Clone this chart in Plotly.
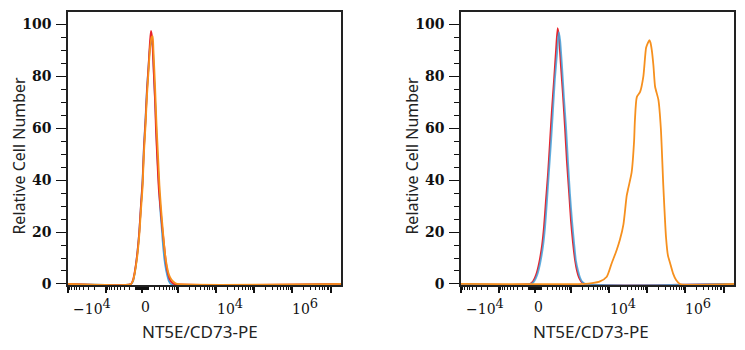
import numpy as np
import plotly.graph_objects as go

# ---- data (x in biexponential display channels 0..1000, y = % of max) ----
# Left panel
L_red_x = [0, 231, 238, 245, 253, 261, 267, 273, 278, 284, 289, 295, 300, 304, 308, 313, 319, 322, 328, 333, 339, 344, 352, 359, 366, 374, 381, 388, 1000]
L_red_y = [0, 0, 1.5, 5, 11, 20, 30, 39, 52, 63, 74, 84, 93, 97.5, 95, 84, 70, 60, 46, 36, 29, 23, 15, 8, 4, 1.5, 0.5, 0, 0]
L_blue_x = [0, 231, 238, 245, 253, 261, 267, 273, 278, 284, 289, 295, 300, 306, 310, 315, 321, 326, 332, 337, 343, 348, 355, 363, 370, 377, 1000]
L_blue_y = [0, 0, 1, 4.5, 11, 20, 30, 40, 53, 64, 75, 84, 91, 94, 92, 80, 66, 52, 40, 30, 22, 15, 8, 3.5, 1, 0, 0]
L_orange_x = [0, 231, 238, 245, 253, 262, 267, 273, 278, 284, 289, 295, 300, 306, 310, 313, 319, 324, 330, 335, 341, 348, 355, 363, 370, 377, 385, 392, 399, 1000]
L_orange_y = [0, 0, 1.2, 4.5, 10, 20, 28, 37, 50, 61, 72, 82, 90, 95, 95.5, 90, 76, 62, 49, 38, 29, 20, 12, 6.5, 3.5, 2, 1, 0.4, 0, 0]

# Right panel
R_red_x = [0, 253, 264, 275, 286, 297, 304, 311, 319, 326, 333, 341, 348, 354, 359, 366, 374, 381, 388, 396, 403, 410, 418, 425, 432, 440, 451, 1000]
R_red_y = [0, 0, 1, 3.5, 8, 15, 22, 32, 43, 55, 67, 79, 90, 98.6, 95, 84, 72, 60, 47, 35, 24, 16, 9, 5, 2.5, 1, 0, 0]
R_blue_x = [0, 257, 268, 279, 290, 301, 308, 315, 322, 330, 337, 344, 352, 358, 363, 370, 377, 385, 392, 399, 407, 414, 421, 429, 436, 443, 455, 1000]
R_blue_y = [0, 0, 1, 3.5, 8, 15, 22, 32, 43, 55, 67, 79, 89, 97, 94, 84, 72, 60, 47, 35, 24, 16, 9, 5, 2.5, 1, 0, 0]
R_orange_x = [0, 454, 480, 509, 534, 552, 570, 582, 595, 607, 613, 625, 634, 637, 644, 656, 668, 678, 685, 690, 694, 699, 705, 711, 723, 732, 741, 751, 758, 766, 777, 788, 802, 1000]
R_orange_y = [0, 0, 0.3, 1, 2.8, 8, 13, 17, 23, 34, 37, 43, 55, 63, 72, 74, 80, 91, 93, 94, 93, 90, 84, 76, 71, 60, 38, 18, 11, 8, 4, 1.5, 0, 0]

y_ticks = [0, 20, 40, 60, 80, 100]
SUP = "<sup><span style='font-size:13px'>{}</span></sup>"
x_tick_labels = ["\u221210" + SUP.format(4), "0", "10" + SUP.format(4), "10" + SUP.format(6)]
x_label_pos = [88, 284, 593, 868]
x_title = "NT5E/CD73-PE"
y_title = "Relative Cell Number"

# ---- biexponential (arcsinh) display transform for the tick marks ----
ZERO, SLOPE, CW = 271.0, 60.9, 235.0
def biex(v):
    return ZERO + SLOPE * np.arcsinh(np.asarray(v, float) / CW)

major_vals = [-1e4, -1e3, 0, 1e3, 1e4, 1e5, 1e6, 1e7]
minor_vals = []
for k in range(1, 7):
    for m in range(1, 10):
        v = m * 10 ** k
        if v not in major_vals:
            minor_vals += [v, -v]
major_pos = [float(p) for p in biex(major_vals) if 0 <= p <= 1000]
minor_pos = [float(p) for p in biex(minor_vals) if 0 <= p <= 1000]

RED, BLUE, ORANGE = "#e8232b", "#45a3dc", "#f6901e"

fig = go.Figure()
def add(x, y, color, ax, op=1.0):
    fig.add_trace(go.Scatter(x=x, y=y, mode="lines", line=dict(color=color, width=1.8, shape="spline", smoothing=0.6),
                             opacity=op, xaxis=ax[0], yaxis=ax[1], showlegend=False, hoverinfo="skip"))

add(L_blue_x, L_blue_y, BLUE, ("x", "y"))
add(L_red_x, L_red_y, RED, ("x", "y"))
add(L_orange_x, L_orange_y, ORANGE, ("x", "y"))
add(R_red_x, R_red_y, RED, ("x2", "y2"))
add(R_blue_x, R_blue_y, BLUE, ("x2", "y2"), 0.85)
add(R_orange_x, R_orange_y, ORANGE, ("x2", "y2"))

# page body has an 8px default margin -> figure coordinates = screen - 8
OFF = 8
FW, FH = 745 - OFF, 350 - OFF
doms = [((68 - OFF) / FW, (341 - OFF) / FW), ((461 - OFF) / FW, (734 - OFF) / FW)]

xcommon = dict(range=[0, 1000], tickmode="array", tickvals=major_pos, showticklabels=False,
               ticks="outside", ticklen=6, tickwidth=1.5, tickcolor="#111",
               minor=dict(tickmode="array", tickvals=minor_pos, ticks="outside", ticklen=3, tickwidth=1, tickcolor="#111"),
               showline=True, linecolor="#222", linewidth=1.5, mirror=True, showgrid=False, zeroline=False,
               fixedrange=True)
ycommon = dict(range=[-0.4, 104.8], tickmode="array", tickvals=y_ticks,
               ticks="outside", ticklen=10, tickwidth=1.2, tickcolor="#111",
               minor=dict(dtick=5, tick0=0, ticks="outside", ticklen=5, tickwidth=1, tickcolor="#111"),
               tickfont=dict(family="DejaVu Serif", size=14, color="#111", weight="bold"),
               ticklabelstandoff=2,
               showline=True, linecolor="#222", linewidth=1.5, mirror=True, showgrid=False, zeroline=False,
               fixedrange=True)

fig.update_layout(
    width=FW, height=FH,
    margin=dict(l=0, r=0, t=12 - OFF, b=FH - (285 - OFF)),
    paper_bgcolor="white", plot_bgcolor="white",
    xaxis=dict(domain=doms[0], anchor="y", **xcommon),
    yaxis=dict(domain=[0, 1], anchor="x", **ycommon),
    xaxis2=dict(domain=doms[1], anchor="y2", **xcommon),
    yaxis2=dict(domain=[0, 1], anchor="x2", **ycommon),
)

ann = []
for xa in ("x", "x2"):
    for txt, pos in zip(x_tick_labels, x_label_pos):
        ann.append(dict(text=txt, x=pos, xref=xa, y=-0.079, yref="paper", xanchor="center", yanchor="middle",
                        showarrow=False, font=dict(family="DejaVu Serif", size=14, color="#111")))
for cx, ty in ((200, 19), (591, 412)):
    ann.append(dict(text=x_title, x=(cx - OFF) / FW, xref="paper", y=-0.172, yref="paper", xanchor="center",
                    yanchor="middle", showarrow=False, font=dict(family="Noto Sans", size=17, color="#222")))
    ann.append(dict(text=y_title, x=(ty - OFF) / FW, xref="paper", y=0.474, yref="paper", xanchor="center",
                    yanchor="middle", textangle=-90, showarrow=False, font=dict(family="Noto Sans", size=16, color="#222")))
fig.update_layout(annotations=ann)

fig.write_html("out.html")
